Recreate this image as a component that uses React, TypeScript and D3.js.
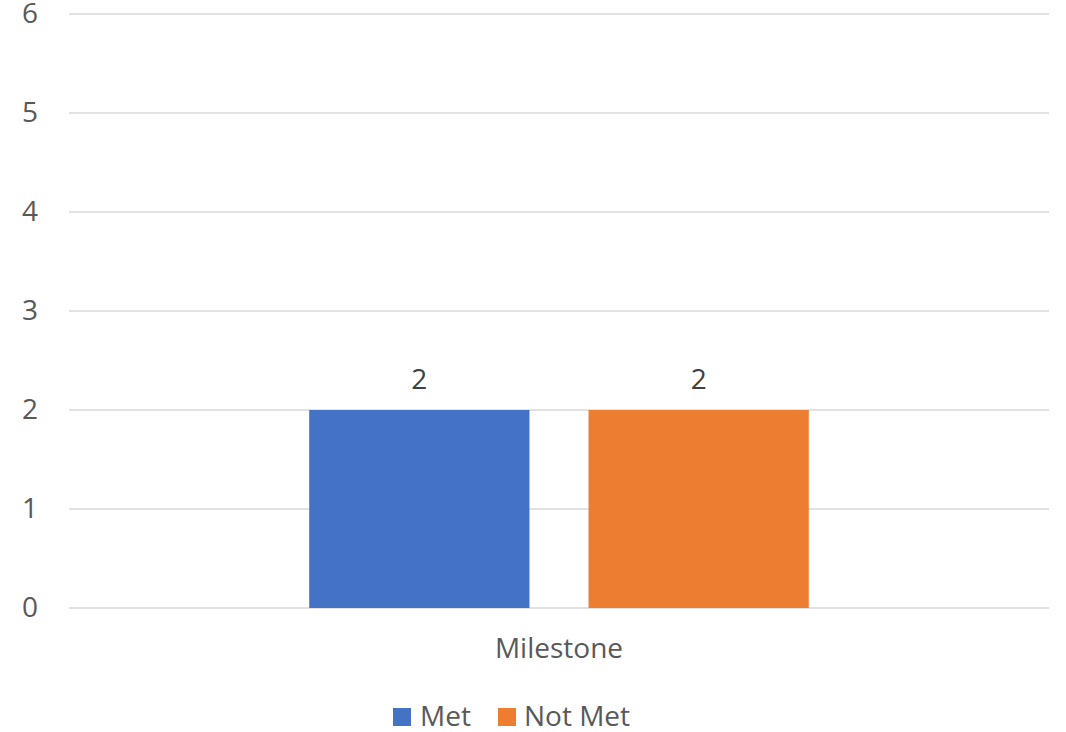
import React from "react";
import * as d3 from "d3";

const categories = ["Milestone"];
const seriesNames = ["Met", "Not Met"];
const seriesValues = [[2], [2]];
const seriesColors = ["#4472C4", "#ED7D31"];
const yTicks = [0, 1, 2, 3, 4, 5, 6];

const W = 1066;
const H = 732;
const left = 69;
const right = 1049;
const top = 14;
const bottom = 608;
const FONT = "'Open Sans', 'Noto Sans', sans-serif";
const FS = 28;
const TXT = "#595959";

export default function App() {
  const y = d3.scaleLinear().domain([0, 6]).range([bottom, top]);
  const x0 = d3.scaleBand().domain(categories).range([left, right]).paddingInner(0).paddingOuter(0);
  const x1 = d3
    .scaleBand()
    .domain(seriesNames)
    .range([0, x0.bandwidth()])
    .paddingInner(0.2115)
    .paddingOuter(0.86);

  return (
    <svg width={W} height={H} style={{ position: "absolute", left: 0, top: 0, background: "#fff" }}>
      {yTicks.map((t) => (
        <g key={t}>
          <line x1={left} x2={right} y1={y(t)} y2={y(t)} stroke="#D9D9D9" strokeWidth={1.5} />
          <text x={38} y={y(t) + 9} textAnchor="end" fontFamily={FONT} fontSize={FS} fill={TXT}>
            {t}
          </text>
        </g>
      ))}
      {categories.map((c, ci) => (
        <g key={c}>
          {seriesNames.map((s, si) => {
            const v = seriesValues[si][ci];
            const bx = (x0(c) ?? 0) + (x1(s) ?? 0);
            return (
              <g key={s}>
                <rect x={bx} y={y(v)} width={x1.bandwidth()} height={y(0) - y(v)} fill={seriesColors[si]} />
                <text
                  x={bx + x1.bandwidth() / 2}
                  y={y(v) - 21}
                  textAnchor="middle"
                  fontFamily={FONT}
                  fontSize={FS}
                  fill="#404040"
                >
                  {v}
                </text>
              </g>
            );
          })}
          <text
            x={(x0(c) ?? 0) + x0.bandwidth() / 2}
            y={658}
            textAnchor="middle"
            fontFamily={FONT}
            fontSize={FS}
            fill={TXT}
          >
            {c}
          </text>
        </g>
      ))}
      <g>
        <rect x={393} y={708} width={18} height={18} fill={seriesColors[0]} />
        <text x={420} y={726} fontFamily={FONT} fontSize={FS} fill={TXT}>
          {seriesNames[0]}
        </text>
        <rect x={498} y={708} width={18} height={18} fill={seriesColors[1]} />
        <text x={524} y={726} fontFamily={FONT} fontSize={FS} fill={TXT}>
          {seriesNames[1]}
        </text>
      </g>
    </svg>
  );
}
